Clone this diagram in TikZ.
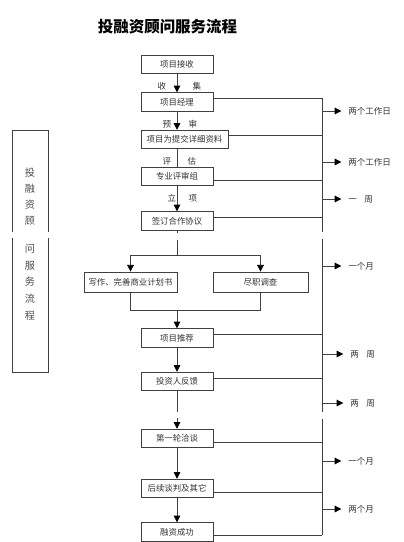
\documentclass[tikz,border=0pt]{standalone}
\usepackage{fontspec}
\setmainfont{Noto Sans CJK SC}
\usetikzlibrary{arrows.meta}
\begin{document}
\begin{tikzpicture}[x=0.75pt,y=-0.75pt,
  every node/.style={font=\fontsize{6.3pt}{7pt}\selectfont, text=black!80},
  box/.style={draw=black!75, line width=0.6pt, minimum height=14pt, inner sep=0pt, fill=white},
  ln/.style={draw=black!75, line width=0.6pt},
  arr/.style={ln, -{Triangle[length=5pt,width=5pt,color=black]}},
  lab/.style={anchor=west, inner sep=0pt, font=\fontsize{6.4pt}{7pt}\selectfont},
  mid/.style={inner sep=0pt, font=\fontsize{6.4pt}{7pt}\selectfont},
  side/.style={align=center, inner sep=0pt, text=black!70}
]
\useasboundingbox (0,0) rectangle (403,542);

% title
\node[font=\fontsize{11.6pt}{13pt}\selectfont\bfseries, text=black] (title) at (167.5,27) {投融资顾问服务流程};

% left frame
\draw[ln] (12,232) -- (12,130) -- (48,130) -- (48,232);
\draw[ln] (12,238) -- (12,372) -- (48,372) -- (48,238);
\node[side, font=\fontsize{7.6pt}{12pt}\selectfont] (l1) at (30,197) {投\\融\\资\\顾};
\node[side, font=\fontsize{7.6pt}{12.5pt}\selectfont] (l2) at (30,282) {问\\服\\务\\流\\程};

% main boxes
\node[box, minimum width=54pt] (b1) at (177,64.5) {项目接收};
\node[box, minimum width=54pt] (b2) at (177,102) {项目经理};
\node[box, minimum width=65.25pt] (b3) at (184.5,139.5) {项目为提交详细资料};
\node[box, minimum width=54pt] (b4) at (177,176.5) {专业评审组};
\node[box, minimum width=54pt] (b5) at (177,221) {签订合作协议};
\node[box, minimum width=69.75pt, minimum height=15pt] (b6) at (130.5,282) {写作、完善商业计划书};
\node[box, minimum width=71.25pt, minimum height=15pt] (b7) at (260.5,282) {尽职调查};
\node[box, minimum width=54pt] (b8) at (177,338) {项目推荐};
\node[box, minimum width=54pt] (b9) at (177,381.5) {投资人反馈};
\node[box, minimum width=54pt] (b10) at (177,438.5) {第一轮洽谈};
\node[box, minimum width=54pt] (b11) at (177,488.5) {后续谈判及其它};
\node[box, minimum width=54pt] (b12) at (177,532) {融资成功};

% labels between boxes
\node[mid] (m1a) at (162,86) {收};
\node[mid] (m1b) at (197,86) {集};
\node[mid] (m2a) at (167,124) {预};
\node[mid] (m2b) at (193,124) {审};
\node[mid] (m3a) at (167,161) {评};
\node[mid] (m3b) at (192,161) {估};
\node[mid] (m4a) at (172,198) {立};
\node[mid] (m4b) at (193,198) {项};

% main flow
\draw[arr] (b1) -- (b2);
\draw[arr] (b2) -- (b3.north -| b2);
\draw[ln] (b3.south -| b4) -- (b4);
\draw[arr] (b4) -- (b5);
\coordinate (g1) at (177,240);
\coordinate (s1) at (177,255);
\draw[ln] (b5.south) -- ++(0,2);
\draw[ln] (g1) -- (s1);
\draw[ln] (b6.north |- s1) -- (b7.north |- s1);
\draw[arr] (b6.north |- s1) -- (b6.north);
\draw[arr] (b7.north |- s1) -- (b7.north);
\coordinate (j1) at (177,310);
\draw[ln] (b6.south) -- (b6.south |- j1) -- (b7.south |- j1) -- (b7.south);
\draw[arr] (j1) -- (b8);
\draw[arr] (b8) -- (b9);
\coordinate (g2) at (177,412);
\coordinate (g3) at (177,418);
\draw[ln] (b9) -- (g2);
\draw[arr] (g3) -- (b10.north);
\draw[arr] (b10) -- (b11);
\draw[arr] (b11) -- (b12);

% right timeline
\coordinate (r0) at (322,98);
\coordinate (r1) at (322,232);
\coordinate (r2) at (322,239);
\coordinate (r3) at (322,412);
\coordinate (r4) at (322,419);
\coordinate (r5) at (322,535);
\draw[ln] (r0) -- (r1);
\draw[ln] (r2) -- (r3);
\draw[ln] (r4) -- (r5);

\coordinate (h2) at (322,98);
\coordinate (h3) at (322,135);
\coordinate (h4) at (322,180);
\coordinate (h5) at (322,217);
\coordinate (h8) at (322,334);
\coordinate (h9) at (322,378);
\coordinate (h10) at (322,442);
\coordinate (h11) at (322,492);
\coordinate (h12) at (322,535);
\draw[ln] (b2.east |- h2) -- (h2);
\draw[ln] (b3.east |- h3) -- (h3);
\draw[ln] (b4.east |- h4) -- (h4);
\draw[ln] (b5.east |- h5) -- (h5);
\draw[ln] (b8.east |- h8) -- (h8);
\draw[ln] (b9.east |- h9) -- (h9);
\draw[ln] (b10.east |- h10) -- (h10);
\draw[ln] (b11.east |- h11) -- (h11);
\draw[ln] (b12.east |- h12) -- (h12);

% time labels
\node[lab] (t1) at (348,111) {两个工作日};
\node[lab] (t2) at (348,162) {两个工作日};
\node[lab] (t3) at (348,199) {一\hspace{0.9em}周};
\node[lab] (t4) at (348,266) {一个月};
\node[lab] (t5) at (350,354) {两\hspace{0.9em}周};
\node[lab] (t6) at (350,403) {两\hspace{0.9em}周};
\node[lab] (t7) at (348,461) {一个月};
\node[lab] (t8) at (348,509) {两个月};
\foreach \t in {t1,t2,t3,t4,t5,t6,t7,t8}{
  \draw[arr, shorten >=5pt] (r0 |- \t.west) -- (\t.west);
}
\end{tikzpicture}
\end{document}
